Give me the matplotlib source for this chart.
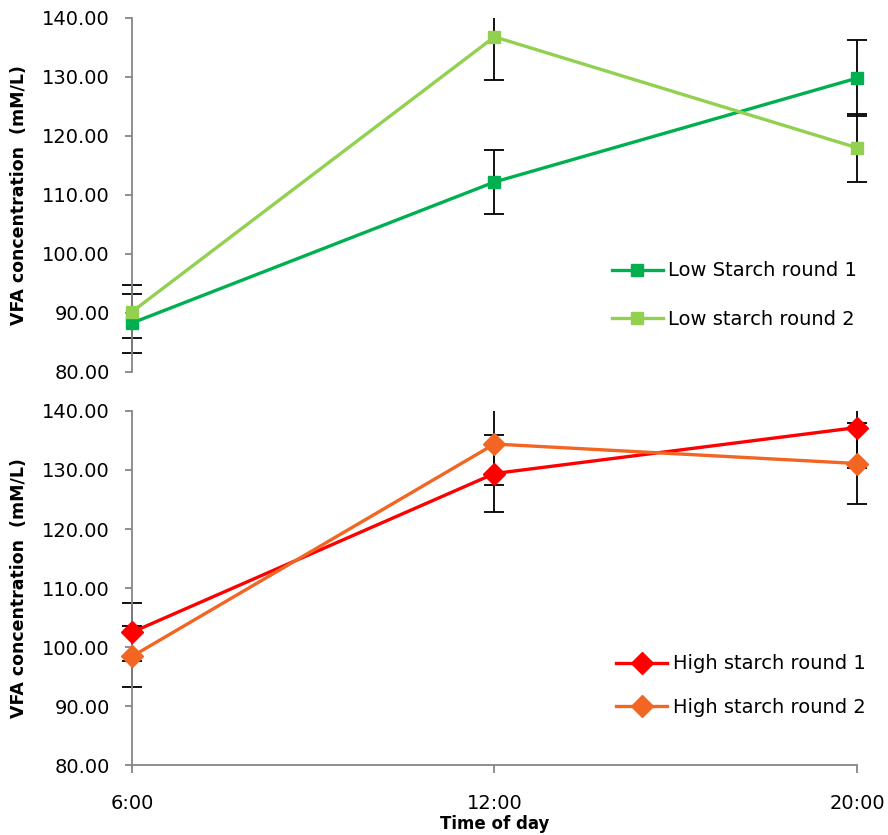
import numpy as np
import matplotlib
matplotlib.use("Agg")
import matplotlib.pyplot as plt
from matplotlib.transforms import Bbox, TransformedBbox

plt.rcParams['font.family'] = ['DejaVu Sans']

times = ['6:00', '12:00', '20:00']

low1 = [88.3, 112.2, 129.8]
low1_err = [5.0, 5.5, 6.4]
low2 = [90.2, 136.8, 118.0]
low2_err = [4.5, 7.3, 5.8]

high1 = [102.5, 129.4, 137.2]
high1_err = [4.9, 6.6, 6.9]
high2 = [98.4, 134.4, 131.1]
high2_err = [5.1, 6.9, 6.9]

top_series = [
    ('Low Starch round 1', low1, low1_err, '#00B050', 's'),
    ('Low starch round 2', low2, low2_err, '#92D050', 's'),
]
bottom_series = [
    ('High starch round 1', high1, high1_err, '#FF0000', 'D'),
    ('High starch round 2', high2, high2_err, '#F26522', 'D'),
]

grey = '#868686'

fig = plt.figure(figsize=(8.88, 8.35), dpi=100)
ax_top = fig.add_axes([0.1486, 0.5545, 0.8165, 0.4240])
ax_bot = fig.add_axes([0.1486, 0.0838, 0.8165, 0.4240])

x = np.arange(len(times))


def draw(ax, series, legend_xy, labelspacing):
    # clip only in y so the edge points still show whole
    clip = TransformedBbox(Bbox([[-0.1, 0], [1.1, 1]]), ax.transAxes)
    for name, vals, errs, color, mk in series:
        eb = ax.errorbar(x, vals, yerr=errs, fmt='none', ecolor='black',
                         elinewidth=1.3, capsize=7, capthick=1.3, zorder=2)
        for art in eb.get_children():
            art.set_clip_box(clip)
        ms = 9 if mk == 's' else 11
        ax.plot(x, vals, color=color, lw=2.4, marker=mk, ms=ms,
                label=name, zorder=3, clip_on=False)
    ax.set_xlim(0, 2)
    ax.set_ylim(80, 140)
    ax.set_yticks(np.arange(80, 141, 10))
    ax.set_yticklabels(['%.2f' % v for v in np.arange(80, 141, 10)])
    for s in ['top', 'right']:
        ax.spines[s].set_visible(False)
    ax.spines['left'].set_color(grey)
    ax.spines['bottom'].set_color(grey)
    ax.spines['left'].set_linewidth(1.3)
    ax.spines['bottom'].set_linewidth(1.3)
    ax.tick_params(axis='y', direction='out', length=5, width=1.3,
                   color=grey, labelsize=14, pad=11)
    ax.set_ylabel('VFA concentration  (mM/L)', fontsize=12.5,
                  fontweight='bold')
    ax.yaxis.set_label_coords(-0.143, 0.5)
    ax.legend(loc='center left', bbox_to_anchor=legend_xy, frameon=False,
              fontsize=14, handlelength=2.6, labelspacing=labelspacing,
              handletextpad=0.3)


draw(ax_top, top_series, (0.638, 0.2175), 1.5)
draw(ax_bot, bottom_series, (0.644, 0.2246), 1.25)

ax_top.spines['bottom'].set_visible(False)
ax_top.set_xticks([])

ax_bot.set_xticks(x)
ax_bot.set_xticklabels(times)
ax_bot.tick_params(axis='x', direction='out', length=6, width=1.3,
                   color=grey, labelsize=14, pad=15)
ax_bot.set_xlabel('Time of day', fontsize=12, fontweight='bold', va='top')
ax_bot.xaxis.set_label_coords(0.5, -0.1425)

fig.savefig('out.png', dpi=100)
